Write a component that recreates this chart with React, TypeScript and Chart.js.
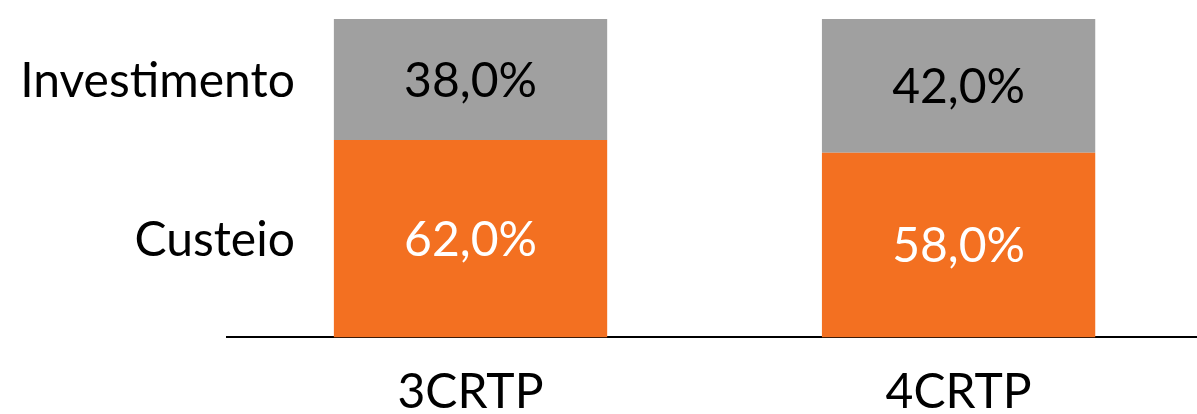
import React, { useEffect, useRef } from "react";
import { Chart, registerables } from "chart.js";

Chart.register(...registerables);

const categories = ["3CRTP", "4CRTP"];
const seriesNames = ["Custeio", "Investimento"];
const custeio = [62.0, 58.0];
const investimento = [38.0, 42.0];
const seriesColors = ["#F37021", "#A0A0A0"];
const labelColors = ["#FFFFFF", "#000000"];

const FONT = "Lato, 'Open Sans', sans-serif";
const FONT_SIZE = 48;
const CAP_HALF = FONT_SIZE * 0.358;

const fmt = (v: number) => v.toFixed(1).replace(".", ",") + "%";

const labelsPlugin = {
  id: "segmentLabels",
  afterDatasetsDraw(chart: any) {
    const ctx = chart.ctx;
    ctx.save();
    ctx.font = `${FONT_SIZE}px ${FONT}`;
    ctx.textBaseline = "alphabetic";
    chart.data.datasets.forEach((ds: any, i: number) => {
      const meta = chart.getDatasetMeta(i);
      meta.data.forEach((el: any, j: number) => {
        const raw = ds.data[j];
        const value = typeof raw === "number" ? raw : raw.y;
        const cy = (el.y + el.base) / 2 + CAP_HALF;
        ctx.fillStyle = labelColors[i];
        ctx.textAlign = "center";
        ctx.fillText(fmt(value), el.x, cy);
        if (j === 0) {
          ctx.fillStyle = "#000000";
          ctx.textAlign = "right";
          ctx.fillText(ds.label, el.x - el.width / 2 - 39, cy);
        }
      });
    });
    ctx.restore();
  },
};

export default function App() {
  const ref = useRef<HTMLCanvasElement>(null);
  useEffect(() => {
    document.body.style.margin = "0";
    const chart = new Chart(ref.current!, {
      type: "bar",
      data: {
        datasets: [
          {
            label: seriesNames[0],
            data: custeio.map((v, i) => ({ x: i, y: v })),
            backgroundColor: seriesColors[0],
            borderWidth: 0,
          },
          {
            label: seriesNames[1],
            data: investimento.map((v, i) => ({ x: i, y: v })),
            backgroundColor: seriesColors[1],
            borderWidth: 0,
          },
        ],
      } as any,
      options: {
        animation: false,
        responsive: false,
        devicePixelRatio: 1,
        layout: { padding: { left: 226.5, right: 0, top: 19, bottom: -25 } },
        plugins: { legend: { display: false }, tooltip: { enabled: false } },
        datasets: { bar: { barPercentage: 1, categoryPercentage: 0.56 } },
        scales: {
          x: {
            type: "linear",
            stacked: true,
            offset: false,
            min: -0.5,
            max: 1.4885,
            grid: { display: false, offset: false },
            border: { display: true, color: "#000000", width: 2 },
            afterBuildTicks: (scale: any) => {
              scale.ticks = categories.map((_, i) => ({ value: i }));
            },
            ticks: {
              padding: 18,
              color: "#000000",
              font: { family: FONT, size: FONT_SIZE },
              callback: (v: any) => categories[v as number] ?? "",
              maxRotation: 0,
              autoSkip: false,
            },
          },
          y: {
            stacked: true,
            display: false,
            min: 0,
            max: 100,
          },
        },
      },
      plugins: [labelsPlugin],
    } as any);
    return () => chart.destroy();
  }, []);
  return (
    <div style={{ width: 1197, height: 414 }}>
      <canvas ref={ref} width={1197} height={414} style={{ display: "block" }} />
    </div>
  );
}
